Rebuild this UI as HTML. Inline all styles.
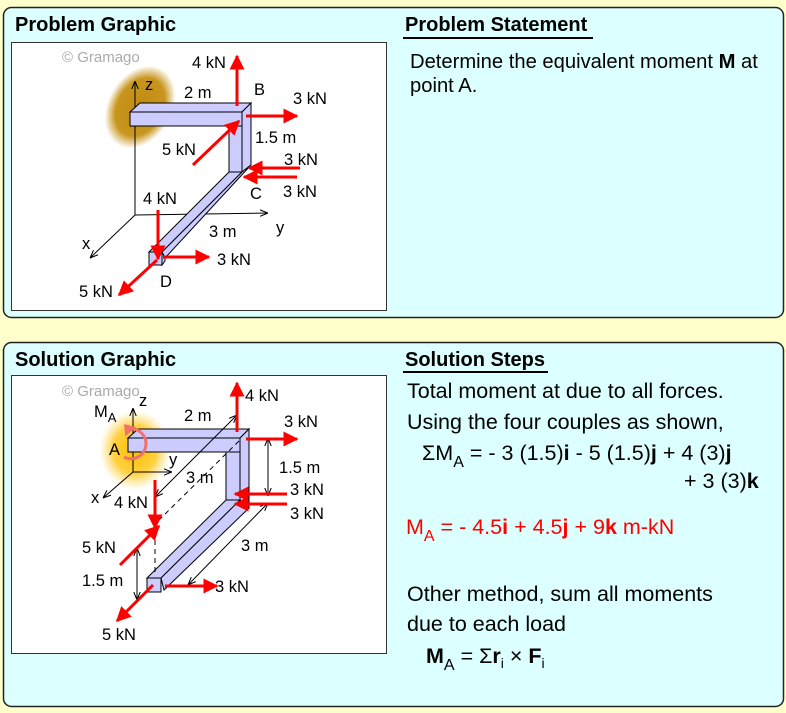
<!DOCTYPE html>
<html><head><meta charset="utf-8"><style>
body{margin:0;background:#ffffcc;}
svg{display:block;font-family:"Liberation Sans",Arial,sans-serif;}
</style></head><body>
<svg width="786" height="713" viewBox="0 0 786 713" xmlns="http://www.w3.org/2000/svg">
<defs>
<marker id="ra" viewBox="0 0 10 10" refX="9" refY="5" markerWidth="5.5" markerHeight="5" orient="auto-start-reverse" markerUnits="strokeWidth"><path d="M0,0L10,5L0,10z" fill="#f00"/></marker>
<marker id="ka" viewBox="0 0 10 10" refX="10" refY="5" markerWidth="8" markerHeight="8" orient="auto-start-reverse" markerUnits="userSpaceOnUse"><path d="M0,1L10,5L0,9" fill="none" stroke="#000" stroke-width="1.3"/></marker>
<radialGradient id="g1"><stop offset="0" stop-color="#c08a10"/><stop offset="0.7" stop-color="#c8961e"/><stop offset="1" stop-color="#c8961e" stop-opacity="0"/></radialGradient>
<radialGradient id="g2"><stop offset="0" stop-color="#ffc000"/><stop offset="0.6" stop-color="#ffd040"/><stop offset="1" stop-color="#ffe080" stop-opacity="0"/></radialGradient>
</defs>
<rect x="3.5" y="7.5" width="780" height="310" rx="8" fill="#dcffff" stroke="#222" stroke-width="1.5"/>
<rect x="3.5" y="342.5" width="780" height="364" rx="8" fill="#dcffff" stroke="#222" stroke-width="1.5"/>
<g font-weight="bold" font-size="20">
<text x="15" y="31">Problem Graphic</text>
<text x="15" y="366">Solution Graphic</text>
<text x="405" y="31">Problem Statement</text>
<text x="405" y="366">Solution Steps</text>
</g>
<line x1="403" y1="38" x2="593" y2="38" stroke="#000" stroke-width="2"/>
<line x1="403" y1="372" x2="548" y2="372" stroke="#000" stroke-width="2"/>
<rect x="11.5" y="42.5" width="375" height="268" fill="#fff" stroke="#333"/>
<rect x="11.5" y="375.5" width="375" height="278" fill="#fff" stroke="#333"/>

<g font-size="21.5">
<text x="410" y="68" font-size="20.2">Determine the equivalent moment <tspan font-weight="bold">M</tspan> at</text>
<text x="410" y="92" font-size="20.2">point A.</text>
<text x="407" y="398">Total moment at due to all forces.</text>
<text x="407" y="429">Using the four couples as shown,</text>
<text x="422" y="460">ΣM<tspan font-size="16" dy="7">A</tspan><tspan dy="-7"> = - 3 (1.5)</tspan><tspan font-weight="bold">i</tspan> - 5 (1.5)<tspan font-weight="bold">j</tspan> + 4 (3)<tspan font-weight="bold">j</tspan></text>
<text x="684" y="488">+ 3 (3)<tspan font-weight="bold">k</tspan></text>
<text x="406" y="534" fill="#f00">M<tspan font-size="16" dy="7">A</tspan><tspan dy="-7"> = - 4.5</tspan><tspan font-weight="bold">i</tspan> + 4.5<tspan font-weight="bold">j</tspan> + 9<tspan font-weight="bold">k</tspan> m-kN</text>
<text x="407" y="601">Other method, sum all moments</text>
<text x="407" y="631">due to each load</text>
<text x="426" y="663"><tspan font-weight="bold">M</tspan><tspan font-size="16" dy="7">A</tspan><tspan dy="-7"> = Σ</tspan><tspan font-weight="bold">r</tspan><tspan font-size="14" dy="5">i</tspan><tspan dy="-5"> × </tspan><tspan font-weight="bold">F</tspan><tspan font-size="14" dy="5">i</tspan></text>
</g>

<!-- Problem graphic -->
<text x="62" y="62" font-size="15" fill="#aaa">© Gramago</text>
<ellipse cx="140" cy="107" rx="32" ry="44" transform="rotate(30 140 107)" fill="url(#g1)"/>
<g stroke="#000" stroke-width="1" fill="none">
<line x1="135" y1="215" x2="135" y2="81" marker-end="url(#ka)"/>
<line x1="135" y1="215" x2="268" y2="213" marker-end="url(#ka)"/>
<line x1="135" y1="215" x2="90" y2="258" marker-end="url(#ka)"/>
</g>
<g fill="#ccccff" stroke="#000" stroke-width="1">
<polygon points="130,112 140,103 251,103 242,112"/>
<rect x="130" y="112" width="112" height="14"/>
<polygon points="242,112 251,103 251,165 242,172"/>
<rect x="229" y="126" width="13" height="46"/>
<polygon points="229,172 242,172 162,252 149,252"/>
<polygon points="242,172 251,165 165,258 162,252"/>
<rect x="149" y="252" width="13" height="13"/>
<polygon points="162,252 165,258 165,261 162,265"/>
</g>
<g stroke="#f00" stroke-width="3" marker-end="url(#ra)">
<line x1="237" y1="106" x2="237" y2="56"/>
<line x1="246" y1="116" x2="297" y2="116"/>
<line x1="193" y1="165" x2="239" y2="121"/>
<line x1="300" y1="168" x2="249" y2="168"/>
<line x1="297" y1="177" x2="244" y2="177"/>
<line x1="158" y1="210" x2="158" y2="259"/>
<line x1="163" y1="257" x2="209" y2="257"/>
<line x1="157" y1="260" x2="119" y2="295"/>
</g>
<g font-size="16.5">
<text x="145" y="90">z</text>
<text x="276" y="233">y</text>
<text x="82" y="249">x</text>
<text x="192" y="68">4 kN</text>
<text x="184" y="98">2 m</text>
<text x="254" y="95">B</text>
<text x="293" y="104">3 kN</text>
<text x="162" y="155">5 kN</text>
<text x="255" y="143">1.5 m</text>
<text x="284" y="165">3 kN</text>
<text x="283" y="197">3 kN</text>
<text x="250" y="199">C</text>
<text x="143" y="204">4 kN</text>
<text x="209" y="237">3 m</text>
<text x="217" y="265">3 kN</text>
<text x="160" y="287">D</text>
<text x="79" y="297">5 kN</text>
</g>

<!-- Solution graphic -->
<text x="62" y="396" font-size="15" fill="#aaa">© Gramago</text>
<ellipse cx="135" cy="450" rx="36" ry="40" fill="url(#g2)"/>
<g stroke="#000" stroke-width="1" fill="none">
<line x1="133" y1="472" x2="133" y2="408" marker-end="url(#ka)"/>
<line x1="133" y1="472" x2="172" y2="472" marker-end="url(#ka)"/>
<line x1="133" y1="472" x2="103" y2="498" marker-end="url(#ka)"/>
</g>
<g fill="#ccccff" stroke="#000" stroke-width="1">
<polygon points="128,438 138,429 249,429 240,438"/>
<rect x="128" y="438" width="112" height="14"/>
<polygon points="240,438 249,429 249,508 240,500"/>
<rect x="226" y="452" width="14" height="48"/>
<polygon points="226,500 240,500 161,578 147,578"/>
<polygon points="240,500 249,508 164,590 161,578"/>
<rect x="147" y="578" width="14" height="14"/>
</g>
<g stroke="#000" stroke-width="1" stroke-dasharray="5,4" fill="none">
<line x1="155" y1="522" x2="155" y2="576"/>
<line x1="239" y1="441" x2="157" y2="522"/>
</g>
<g stroke="#000" stroke-width="1" fill="none">
<line x1="237" y1="415" x2="155" y2="497" marker-start="url(#ka)" marker-end="url(#ka)"/>
<line x1="268" y1="438" x2="268" y2="496" marker-start="url(#ka)" marker-end="url(#ka)"/>
<line x1="268" y1="503" x2="188" y2="585" marker-start="url(#ka)" marker-end="url(#ka)"/>
<line x1="137" y1="548" x2="137" y2="600" marker-start="url(#ka)" marker-end="url(#ka)"/>
</g>
<path d="M124,457 A15,15 0 1 0 128,429" fill="none" stroke="#f07070" stroke-width="3"/>
<path d="M126,423 L136,430 L123,435 z" fill="#f07070" transform="rotate(-20 128 429)"/>
<g stroke="#f00" stroke-width="3" marker-end="url(#ra)">
<line x1="237" y1="432" x2="237" y2="383"/>
<line x1="246" y1="439" x2="297" y2="439"/>
<line x1="287" y1="494" x2="235" y2="494"/>
<line x1="287" y1="504" x2="235" y2="504"/>
<line x1="155" y1="480" x2="155" y2="528"/>
<line x1="120" y1="565" x2="159" y2="526"/>
<line x1="165" y1="586" x2="217" y2="586"/>
<line x1="153" y1="585" x2="117" y2="621"/>
</g>
<g font-size="16.5">
<text x="139" y="406">z</text>
<text x="94" y="417">M<tspan font-size="13" dy="5">A</tspan></text>
<text x="109" y="455">A</text>
<text x="169" y="465">y</text>
<text x="91" y="503">x</text>
<text x="245" y="401">4 kN</text>
<text x="184" y="421">2 m</text>
<text x="284" y="427">3 kN</text>
<text x="186" y="483">3 m</text>
<text x="279" y="473">1.5 m</text>
<text x="290" y="495">3 kN</text>
<text x="290" y="519">3 kN</text>
<text x="114" y="508">4 kN</text>
<text x="82" y="553">5 kN</text>
<text x="241" y="551">3 m</text>
<text x="82" y="586">1.5 m</text>
<text x="215" y="592">3 kN</text>
<text x="102" y="640">5 kN</text>
</g>
</svg>
</body></html>
